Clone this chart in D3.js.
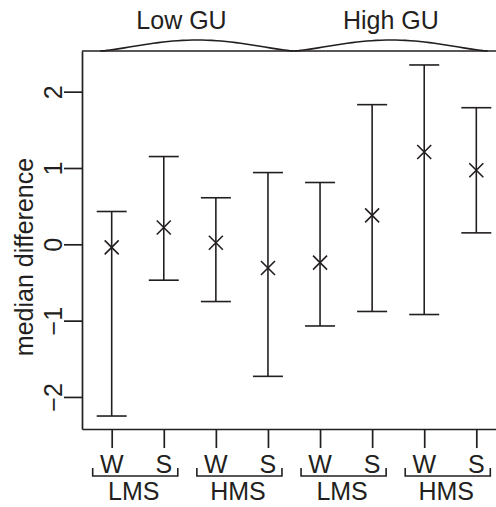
<!DOCTYPE html>
<html>
<head>
<meta charset="utf-8">
<script src="https://cdn.jsdelivr.net/npm/d3@7"></script>
<style>
  body { margin: 0; background: #fff; }
  text { font-family: "Liberation Sans", Arial, sans-serif; fill: #231f20; }
</style>
</head>
<body>
<div id="chart"></div>
<script>
// data
var xLabels = ["W", "S", "W", "S", "W", "S", "W", "S"];
var pairLabels = ["LMS", "HMS", "LMS", "HMS"];
var groupLabels = ["Low GU", "High GU"];
var medians = [-0.04, 0.22, 0.02, -0.31, -0.24, 0.38, 1.21, 0.97];
var lower = [-2.25, -0.47, -0.75, -1.73, -1.07, -0.88, -0.92, 0.15];
var upper = [0.43, 1.15, 0.61, 0.94, 0.81, 1.83, 2.35, 1.79];
var yTicks = [-2, -1, 0, 1, 2];

var svgWidth = 496;
var svgHeight = 507;
var ink = "#231f20";
var fontSize = "25px";

var svg = d3.select("#chart")
  .append("svg")
  .attr("width", svgWidth)
  .attr("height", svgHeight);

var xScale = d3.scaleLinear()
  .domain([0.43, 8.57])
  .range([82, 506]);

var yScale = d3.scaleLinear()
  .domain([-2.42, 2.533])
  .range([429, 51]);

// left axis
var yAxis = svg.append("g")
  .attr("transform", "translate(82,0)")
  .call(d3.axisLeft(yScale)
    .tickValues(yTicks)
    .tickFormat(d3.format("d"))
    .tickSize(18)
    .tickSizeOuter(0));

yAxis.selectAll("path, line").attr("stroke", ink).attr("stroke-width", 1.7);
yAxis.selectAll("text")
  .attr("x", null).attr("dy", null).attr("y", null)
  .attr("transform", "translate(-20,0) rotate(-90)")
  .attr("text-anchor", "middle")
  .attr("font-size", null)
  .attr("font-family", null)
  .style("font-size", fontSize)
  .attr("fill", ink);

// bottom axis
var xAxis = svg.append("g")
  .attr("transform", "translate(0,429)")
  .call(d3.axisBottom(xScale).tickValues(d3.range(1, 9)).tickSize(19).tickSizeOuter(0).tickFormat(""));
xAxis.selectAll("path, line").attr("stroke", ink).attr("stroke-width", 1.7);

// top border
svg.append("line")
  .attr("x1", 82).attr("x2", svgWidth)
  .attr("y1", 51).attr("y2", 51)
  .attr("stroke", ink).attr("stroke-width", 1.7);

// axis title
svg.append("text")
  .attr("transform", "translate(33, 257) rotate(-90)")
  .attr("text-anchor", "middle")
  .style("font-size", fontSize)
  .text("median difference");

// error bars
var bars = svg.append("g").selectAll("g")
  .data(medians)
  .enter()
  .append("g");

bars.append("line")
  .attr("x1", (d, i) => xScale(i + 1))
  .attr("x2", (d, i) => xScale(i + 1))
  .attr("y1", (d, i) => yScale(lower[i]))
  .attr("y2", (d, i) => yScale(upper[i]));

bars.append("line")
  .attr("x1", (d, i) => xScale(i + 1) - 15)
  .attr("x2", (d, i) => xScale(i + 1) + 15)
  .attr("y1", (d, i) => yScale(upper[i]))
  .attr("y2", (d, i) => yScale(upper[i]));

bars.append("line")
  .attr("x1", (d, i) => xScale(i + 1) - 15)
  .attr("x2", (d, i) => xScale(i + 1) + 15)
  .attr("y1", (d, i) => yScale(lower[i]))
  .attr("y2", (d, i) => yScale(lower[i]));

bars.append("path")
  .attr("transform", (d, i) => `translate(${xScale(i + 1)},${yScale(d)})`)
  .attr("d", "M-7,-7L7,7M-7,7L7,-7");

bars.selectAll("line, path")
  .attr("stroke", ink)
  .attr("stroke-width", 1.6)
  .attr("fill", "none");

// W / S labels
svg.append("g").selectAll("text")
  .data(xLabels)
  .enter()
  .append("text")
  .attr("x", (d, i) => xScale(i + 1))
  .attr("y", 473)
  .attr("text-anchor", "middle")
  .style("font-size", fontSize)
  .text(d => d);

// pair brackets
var pairs = svg.append("g").selectAll("g")
  .data(pairLabels)
  .enter()
  .append("g");

pairs.append("path")
  .attr("d", (d, i) => {
    var x0 = xScale(2 * i + 1) - 19;
    var x1 = xScale(2 * i + 2) + 14;
    return `M${x0},468V476H${x1}V468`;
  })
  .attr("fill", "none")
  .attr("stroke", ink)
  .attr("stroke-width", 1.6);

pairs.append("text")
  .attr("x", (d, i) => (xScale(2 * i + 1) + xScale(2 * i + 2)) / 2 - 4)
  .attr("y", 500)
  .attr("text-anchor", "middle")
  .style("font-size", fontSize)
  .text(d => d);

// group braces on top
var braceEdges = [0.78, 4.5, 8.22];
var labelPos = [2.34, 6.36];
var braceLine = d3.line()
  .x(d => d[0])
  .y(d => d[1]);

var groups = svg.append("g").selectAll("g")
  .data(groupLabels)
  .enter()
  .append("g");

groups.append("path")
  .attr("d", (d, i) => {
    var a = xScale(braceEdges[i]);
    var b = xScale(braceEdges[i + 1]);
    var pts = d3.range(0, 41).map(k => {
      var t = k / 40;
      return [a + (b - a) * t, 51 - 11 * Math.pow(Math.sin(Math.PI * t), 1.3)];
    });
    return braceLine(pts);
  })
  .attr("fill", "none")
  .attr("stroke", ink)
  .attr("stroke-width", 1.6);

groups.append("text")
  .attr("x", (d, i) => xScale(labelPos[i]))
  .attr("y", 29)
  .attr("text-anchor", "middle")
  .style("font-size", fontSize)
  .text(d => d);
</script>
</body>
</html>
